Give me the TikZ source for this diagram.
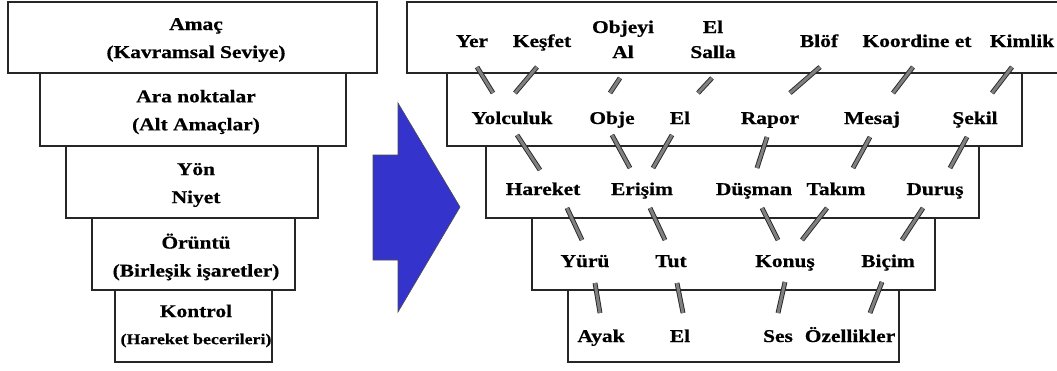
\documentclass[tikz,border=0pt]{standalone}
\usepackage{fontspec}
\setmainfont{Liberation Serif}[FakeStretch=1.19,FakeBold=0.6]
\usetikzlibrary{calc}
\definecolor{arrowblue}{RGB}{52,52,204}
\tikzset{
  lvl/.style={draw=black!85, line width=1.5pt},
  txt/.style={inner sep=0pt, font=\fontsize{18}{28}\selectfont\bfseries, align=center},
  txtr/.style={inner sep=0pt, font=\fontsize{18}{25}\selectfont\bfseries, align=center, anchor=base},
  bar/.style={draw=black!85, line width=0.9pt, double=black!50, double distance=3pt},
}
\newcommand\conn[6]{\draw[bar] ($(#1)+(#2,#3)$) -- ($(#4)+(#5,#6)$);}
\begin{document}
\begin{tikzpicture}[x=1pt,y=-1pt]
\clip (0,0) rectangle (1057,370);
\fill[white] (0,0) rectangle (1057,370);
% left stack
\draw[lvl] (8,2) rectangle (377,73);
\draw[lvl] (40,73) rectangle (346,146);
\draw[lvl] (66,146) rectangle (318,218);
\draw[lvl] (92,218) rectangle (295,290);
\draw[lvl] (115,290) rectangle (272,362);
\node[txt] (amac) at (196,40) {Amaç\\(Kavramsal Seviye)};
\node[txt] (ara) at (196,112) {Ara noktalar\\(Alt Amaçlar)};
\node[txt] (yon) at (196,185) {Yön\\Niyet};
\node[txt] (oruntu) at (196,257) {Örüntü\\(Birleşik işaretler)};
\node[txt, font=\fontsize{18}{27}\selectfont\bfseries] (kontrol) at (196,326) {Kontrol\\{\fontsize{15}{18}\selectfont(Hareket becerileri)}};
% arrow
\filldraw[fill=arrowblue, draw=black!70, line width=0.6pt]
  (373,155) -- (398,155) -- (398,103) -- (460,207) -- (398,312) -- (398,260) -- (373,260) -- cycle;
% right stack
\draw[lvl] (407,2) rectangle (1065,73);
\draw[lvl] (447,73) rectangle (1022,146);
\draw[lvl] (486,146) rectangle (979,218);
\draw[lvl] (532,218) rectangle (935,290);
\draw[lvl] (568,290) rectangle (899,362);
% row 1
\node[txtr] (yer) at (472,47) {Yer};
\node[txtr] (kesfet) at (542,47) {Keşfet};
\node[txtr] (objeyi) at (623,58) {Objeyi\\Al};
\node[txtr] (salla) at (713,58) {El\\Salla};
\node[txtr] (blof) at (819,47) {Blöf};
\node[txtr] (koord) at (917,47) {Koordine et};
\node[txtr] (kimlik) at (1022,47) {Kimlik};
% row 2
\node[txtr] (yolculuk) at (512,124) {Yolculuk};
\node[txtr] (obje) at (612,124) {Obje};
\node[txtr] (el) at (680,124) {El};
\node[txtr] (rapor) at (770,124) {Rapor};
\node[txtr] (mesaj) at (872,124) {Mesaj};
\node[txtr] (sekil) at (975,124) {Şekil};
% row 3
\node[txtr] (hareket) at (543,195) {Hareket};
\node[txtr] (erisim) at (642,195) {Erişim};
\node[txtr] (dusman) at (754,195) {Düşman};
\node[txtr] (takim) at (836,195) {Takım};
\node[txtr] (durus) at (935,195) {Duruş};
% row 4
\node[txtr] (yuru) at (585,267) {Yürü};
\node[txtr] (tut) at (671,267) {Tut};
\node[txtr] (konus) at (785,267) {Konuş};
\node[txtr] (bicim) at (888,267) {Biçim};
% row 5
\node[txtr] (ayak) at (601,342) {Ayak};
\node[txtr] (el2) at (680,342) {El};
\node[txtr] (ses) at (778,342) {Ses};
\node[txtr] (ozel) at (850,342) {Özellikler};
% connectors row1 -> row2
\conn{yer.base}{5}{20}{yolculuk.base}{-19}{-31}
\conn{kesfet.base}{-5}{20}{yolculuk.base}{3}{-31}
\conn{objeyi.base}{-3}{20}{obje.base}{-2}{-31}
\conn{salla.base}{-1}{20}{el.base}{18}{-31}
\conn{blof.base}{1}{20}{rapor.base}{20}{-31}
\conn{koord.base}{-4}{20}{mesaj.base}{21}{-31}
\conn{kimlik.base}{-10}{20}{sekil.base}{17}{-31}
% row2 -> row3
\conn{yolculuk.base}{5}{11}{hareket.base}{-3}{-25}
\conn{obje.base}{0}{11}{erisim.base}{-12}{-27}
\conn{el.base}{-8}{11}{erisim.base}{11}{-27}
\conn{rapor.base}{-3}{13}{dusman.base}{3}{-27}
\conn{mesaj.base}{-2}{13}{takim.base}{17}{-27}
\conn{sekil.base}{-8}{13}{durus.base}{15}{-27}
% row3 -> row4
\conn{hareket.base}{24}{13}{yuru.base}{-3}{-27}
\conn{erisim.base}{8}{13}{tut.base}{-6}{-27}
\conn{dusman.base}{8}{13}{konus.base}{-7}{-27}
\conn{takim.base}{-9}{13}{konus.base}{17}{-27}
\conn{durus.base}{-12}{13}{bicim.base}{14}{-27}
% row4 -> row5
\conn{yuru.base}{10}{16}{ayak.base}{-1}{-29}
\conn{tut.base}{6}{16}{el2.base}{3}{-29}
\conn{konus.base}{0}{15}{ses.base}{0}{-29}
\conn{bicim.base}{-6}{15}{ozel.base}{20}{-29}
\end{tikzpicture}
\end{document}
